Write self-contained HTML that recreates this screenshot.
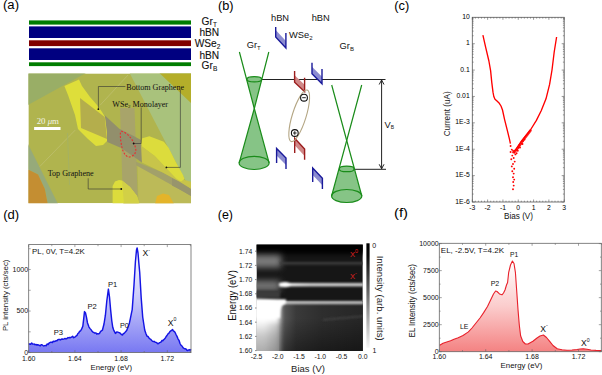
<!DOCTYPE html>
<html><head><meta charset="utf-8"><style>
html,body{margin:0;padding:0;background:#fff;width:602px;height:375px;overflow:hidden}
svg{display:block}

</style></head><body>
<svg width="602" height="375" viewBox="0 0 602 375">
<rect width="602" height="375" fill="#fff"/>
<text x="3" y="8.9" font-size="12" textLength="16" lengthAdjust="spacingAndGlyphs" fill="#000" font-family='"Liberation Sans", sans-serif'>(a)</text>
<text x="218" y="9.6" font-size="12" textLength="15.6" lengthAdjust="spacingAndGlyphs" fill="#000" font-family='"Liberation Sans", sans-serif'>(b)</text>
<text x="394.3" y="9.6" font-size="12" textLength="15" lengthAdjust="spacingAndGlyphs" fill="#000" font-family='"Liberation Sans", sans-serif'>(c)</text>
<text x="3.2" y="219.1" font-size="12" textLength="16" lengthAdjust="spacingAndGlyphs" fill="#000" font-family='"Liberation Sans", sans-serif'>(d)</text>
<text x="217.8" y="218.8" font-size="12" textLength="15.2" lengthAdjust="spacingAndGlyphs" fill="#000" font-family='"Liberation Sans", sans-serif'>(e)</text>
<text x="394" y="216.8" font-size="12" textLength="14" lengthAdjust="spacingAndGlyphs" fill="#000" font-family='"Liberation Sans", sans-serif'>(f)</text>
<rect x="29" y="20.4" width="162" height="4.2" fill="#007d00"/>
<rect x="29" y="26.4" width="162" height="11.6" fill="#000080"/>
<rect x="29" y="40.3" width="162" height="5.8" fill="#800000"/>
<rect x="29" y="48.3" width="162" height="11.7" fill="#000080"/>
<rect x="29" y="62.3" width="162" height="3.8" fill="#007d00"/>
<g font-family='"Liberation Sans", sans-serif' font-size="10.2" fill="#111" stroke="#111" stroke-width="0.1">
<text x="201.6" y="24.9">Gr<tspan font-size="6.5" dy="2">T</tspan></text>
<text x="199.4" y="35.8">hBN</text>
<text x="194.7" y="46.9">WSe<tspan font-size="6.5" dy="2">2</tspan></text>
<text x="199.4" y="59">hBN</text>
<text x="201.6" y="68.8">Gr<tspan font-size="6.5" dy="2">B</tspan></text>
</g>
<svg x="28.4" y="73.4" width="162.6" height="129.79999999999998" viewBox="28.4 73.4 162.6 129.79999999999998" overflow="hidden">
<rect x="28.4" y="73.4" width="162.6" height="129.79999999999998" fill="#b0b44e"/>
<polygon points="28,73 86,73 28,105" fill="#99ae66"/>
<polygon points="129.6,73 192,73 192,192 182,174" fill="#a9c27c"/>
<polygon points="159.4,73 192,73 192,104" fill="#b4ae2a"/>
<polygon points="28,144 58,204 47.7,204 44.8,189 38,174.4 28,169.4" fill="#96aa7a"/>
<polygon points="28,169.4 38,174.4 44.8,189 47.7,204 28,204" fill="#c48e32"/>
<polygon points="120,108 134.5,108 138,204 123,204" fill="#a8a46a"/>
<polygon points="104.7,115.3 119.3,128.7 133.6,136 141,140 142,146 142,162.4 121.2,148 107.3,142" fill="#928f6c"/>
<polygon points="137.5,163 192,194 192,204 138.5,204" fill="#bcba58"/>
<polygon points="136,161.8 162.7,172.4 179.7,181.8 192,189.5 192,196.5 179.7,189.5 162.7,180.1 136,165.2" fill="#a2a06a"/>
<polygon points="172,178 179.7,181.8 192,189.5 192,196.5 179.7,189.5 172,185.5" fill="#98956c"/>
<polygon points="64.4,86 79,79.4 82,86 90,97 97,105 102,112 105,117 107,133 107,141 103,145 96,146 88,139 78,129 75,115 68,95" fill="#dede3a"/>
<polygon points="80,98 104.7,117 107,139 81,128" fill="#b4ae4c"/>
<polygon points="141,144 141.9,162.4 162.7,172.4 179.7,181.8 192,189.5 192,182 184.5,180 176,178.5 154.8,156 142,146.4" fill="#c8c44a"/>
<polygon points="142.2,138.2 149.4,136.2 163.8,141.8 168.6,147.8 175.8,162.1 183,175 184.5,179 181,181.5 176,178.5 154.8,156 142,146.4 141,143" fill="#dcdc3c"/>
<polygon points="112.6,204 112.6,186 115,181.5 119,180 122,180.5 130,187 137,196 139.4,204" fill="#dcdc3c"/>
<polygon points="122,180.5 130,187 137,196 139.4,204 124,204" fill="#d2d046"/>
<polygon points="155,204 157,196 163,193.4 169,195 174,204" fill="#e4b42a"/>
<path d="M121.3,131.2 C124,131.5 127,134 129.5,136.5 C132.5,140 135.5,145 135.8,150 C136,154 132,157.2 128.5,157 C125.5,156.5 123,152 122,147.5 C121,143 120.2,137 120.3,134 C120.4,132.2 120.8,131.2 121.3,131.2 Z" fill="none" stroke="#e83030" stroke-width="1.1" stroke-dasharray="1.9,1.5"/>
<g stroke="#c4c47c" stroke-width="0.8" opacity="0.7" fill="none"><line x1="39.8" y1="166.5" x2="75.3" y2="130"/><line x1="100" y1="105.3" x2="128" y2="75"/></g>
<line x1="67.5" y1="133" x2="69.5" y2="185" stroke="#9eb070" stroke-width="1" opacity="0.6"/>
<g stroke="#333" stroke-width="0.6" fill="none">
<polyline points="125.4,86.5 98.4,86.5 98.4,109.2"/>
<polyline points="180.4,90 180.4,167.4 166.4,167.4"/>
<polyline points="141.2,107.4 141.2,143.5 133.6,143.5"/>
<polyline points="88.2,178.3 88.2,189 121.3,189"/>
</g>
<g fill="#111"><circle cx="98.4" cy="109.2" r="0.9"/><circle cx="166.4" cy="167.4" r="0.9"/><circle cx="133.6" cy="143.5" r="0.9"/><circle cx="121.3" cy="189" r="0.9"/></g>
<g font-family='"Liberation Serif", serif' font-size="8.1" fill="#111">
<text x="126.3" y="90.1">Bottom Graphene</text>
<text x="112.3" y="106.5">WSe<tspan font-size="5" dy="1.5">2</tspan><tspan dy="-1.5"> Monolayer</tspan></text>
<text x="47.7" y="176.4">Top Graphene</text>
</g>
<rect x="34.1" y="127" width="26.4" height="3" fill="#fff"/>
<text x="36.7" y="123.8" font-family='"Liberation Serif", serif' font-size="8.8" fill="#f4f4e8">20 <tspan font-style="italic">μ</tspan>m</text>
</svg>
<g font-family='"Liberation Sans", sans-serif' font-size="9.3" fill="#111">
<text x="271" y="20.7">hBN</text>
<text x="311.7" y="20.7">hBN</text>
<text x="289" y="37.7">WSe<tspan font-size="6" dy="2">2</tspan></text>
<text x="246.7" y="48.3">Gr<tspan font-size="6" dy="2">T</tspan></text>
<text x="339.6" y="48.7">Gr<tspan font-size="6" dy="2">B</tspan></text>
<text x="384.6" y="128">V<tspan font-size="5" dy="1.2">B</tspan></text>
</g>
<g stroke="#222" stroke-width="1" fill="none">
<line x1="262" y1="79.5" x2="385.5" y2="79.5"/>
<line x1="354" y1="169.3" x2="386" y2="169.3"/>
<line x1="381.6" y1="80" x2="381.6" y2="169"/>
<polyline points="379.2,84.5 381.6,80 384,84.5"/>
<polyline points="379.2,164.3 381.6,168.8 384,164.3"/>
</g>
<g stroke="#1a8c1a" stroke-width="1.2">
<polygon points="246.7,79.3 261.9,79.3 254.3,108.5" fill="#86c486" stroke="none"/>
<polygon points="254.3,108.5 239.2,162.9 269.1,162.9" fill="#86c486" stroke="none"/>
<ellipse cx="254.1" cy="162.9" rx="15" ry="6.6" fill="#86c486"/>
<ellipse cx="254.3" cy="79.3" rx="7.4" ry="2.6" fill="#86c486"/>
<polyline points="239.4,52 254.3,108.5 269.1,162.9" fill="none"/>
<polyline points="268.8,52 254.3,108.5 239.2,162.9" fill="none"/>
</g>
<g stroke="#1a8c1a" stroke-width="1.2">
<polygon points="339.2,168.9 354.2,168.9 361.8,196 331.6,196" fill="#86c486" stroke="none"/>
<ellipse cx="346.7" cy="196" rx="15.1" ry="6.5" fill="#86c486"/>
<ellipse cx="346.7" cy="168.9" rx="7.4" ry="2.8" fill="#86c486"/>
<polyline points="331.7,85 346.7,140.5 361.8,196" fill="none"/>
<polyline points="361.7,85 346.7,140.5 331.6,196" fill="none"/>
</g>
<polygon points="275.7,30 285.9,40.9 285.9,47.9 275.7,37" fill="#8c8cd0"/>
<polyline points="275.7,27 275.7,37 285.9,47.9 285.9,33" fill="none" stroke="#1a1a9a" stroke-width="1.4"/>
<polygon points="294.6,75.3 304.6,84.7 304.6,91.7 294.6,82.3" fill="#d08888"/>
<polyline points="294.6,71 294.6,82.3 304.6,91.7 304.6,77.7" fill="none" stroke="#9b1c1c" stroke-width="1.4"/>
<polygon points="312,66.7 322,76.7 322,83.7 312,73.7" fill="#8c8cd0"/>
<polyline points="312,62.7 312,73.7 322,83.7 322,69" fill="none" stroke="#1a1a9a" stroke-width="1.4"/>
<polygon points="294.7,138.3 304.6,149 304.6,156 294.7,145.3" fill="#d08888"/>
<polyline points="294.7,153 294.7,138.3 304.6,149 304.6,159.7" fill="none" stroke="#9b1c1c" stroke-width="1.4"/>
<polygon points="276.6,148.5 286,158 286,165 276.6,155.5" fill="#8c8cd0"/>
<polyline points="276.6,163 276.6,148.5 286,158 286,169" fill="none" stroke="#1a1a9a" stroke-width="1.4"/>
<polygon points="312.7,168 322.4,178.2 322.4,185.2 312.7,175" fill="#8c8cd0"/>
<polyline points="312.7,182 312.7,168 322.4,178.2 322.4,188.9" fill="none" stroke="#1a1a9a" stroke-width="1.4"/>
<ellipse cx="299.2" cy="115.8" rx="6.9" ry="27" transform="rotate(17.3 299.2 115.8)" fill="none" stroke="#b4a684" stroke-width="1.1"/>
<g stroke="#111" stroke-width="1.1" fill="#fff"><circle cx="304" cy="97.7" r="3.4"/><circle cx="294.8" cy="133" r="3.4"/></g>
<g stroke="#111" stroke-width="0.9"><line x1="302.2" y1="97.7" x2="305.8" y2="97.7"/><line x1="293" y1="133" x2="296.6" y2="133"/><line x1="294.8" y1="131.2" x2="294.8" y2="134.8"/></g>
<rect x="472.3" y="17.3" width="91.90000000000003" height="184.7" fill="none" stroke="#555" stroke-width="0.8"/>
<path d="M472.3,202.00h2.5M564.2,202.00h-2.5M472.3,194.06h1.3M564.2,194.06h-1.3M472.3,189.41h1.3M564.2,189.41h-1.3M472.3,186.11h1.3M564.2,186.11h-1.3M472.3,183.56h1.3M564.2,183.56h-1.3M472.3,181.47h1.3M564.2,181.47h-1.3M472.3,179.70h1.3M564.2,179.70h-1.3M472.3,178.17h1.3M564.2,178.17h-1.3M472.3,176.82h1.3M564.2,176.82h-1.3M472.3,175.61h2.5M564.2,175.61h-2.5M472.3,167.67h1.3M564.2,167.67h-1.3M472.3,163.03h1.3M564.2,163.03h-1.3M472.3,159.73h1.3M564.2,159.73h-1.3M472.3,157.17h1.3M564.2,157.17h-1.3M472.3,155.08h1.3M564.2,155.08h-1.3M472.3,153.32h1.3M564.2,153.32h-1.3M472.3,151.79h1.3M564.2,151.79h-1.3M472.3,150.44h1.3M564.2,150.44h-1.3M472.3,149.23h2.5M564.2,149.23h-2.5M472.3,141.29h1.3M564.2,141.29h-1.3M472.3,136.64h1.3M564.2,136.64h-1.3M472.3,133.34h1.3M564.2,133.34h-1.3M472.3,130.79h1.3M564.2,130.79h-1.3M472.3,128.70h1.3M564.2,128.70h-1.3M472.3,126.93h1.3M564.2,126.93h-1.3M472.3,125.40h1.3M564.2,125.40h-1.3M472.3,124.05h1.3M564.2,124.05h-1.3M472.3,122.84h2.5M564.2,122.84h-2.5M472.3,114.90h1.3M564.2,114.90h-1.3M472.3,110.25h1.3M564.2,110.25h-1.3M472.3,106.96h1.3M564.2,106.96h-1.3M472.3,104.40h1.3M564.2,104.40h-1.3M472.3,102.31h1.3M564.2,102.31h-1.3M472.3,100.54h1.3M564.2,100.54h-1.3M472.3,99.01h1.3M564.2,99.01h-1.3M472.3,97.66h1.3M564.2,97.66h-1.3M472.3,96.46h2.5M564.2,96.46h-2.5M472.3,88.51h1.3M564.2,88.51h-1.3M472.3,83.87h1.3M564.2,83.87h-1.3M472.3,80.57h1.3M564.2,80.57h-1.3M472.3,78.01h1.3M564.2,78.01h-1.3M472.3,75.93h1.3M564.2,75.93h-1.3M472.3,74.16h1.3M564.2,74.16h-1.3M472.3,72.63h1.3M564.2,72.63h-1.3M472.3,71.28h1.3M564.2,71.28h-1.3M472.3,70.07h2.5M564.2,70.07h-2.5M472.3,62.13h1.3M564.2,62.13h-1.3M472.3,57.48h1.3M564.2,57.48h-1.3M472.3,54.19h1.3M564.2,54.19h-1.3M472.3,51.63h1.3M564.2,51.63h-1.3M472.3,49.54h1.3M564.2,49.54h-1.3M472.3,47.77h1.3M564.2,47.77h-1.3M472.3,46.24h1.3M564.2,46.24h-1.3M472.3,44.89h1.3M564.2,44.89h-1.3M472.3,43.69h2.5M564.2,43.69h-2.5M472.3,35.74h1.3M564.2,35.74h-1.3M472.3,31.10h1.3M564.2,31.10h-1.3M472.3,27.80h1.3M564.2,27.80h-1.3M472.3,25.24h1.3M564.2,25.24h-1.3M472.3,23.15h1.3M564.2,23.15h-1.3M472.3,21.39h1.3M564.2,21.39h-1.3M472.3,19.86h1.3M564.2,19.86h-1.3M472.3,18.51h1.3M564.2,18.51h-1.3M472.30,202.0v-2.5M472.30,17.3v2.5M475.36,202.0v-1.3M475.36,17.3v1.3M478.43,202.0v-1.3M478.43,17.3v1.3M481.49,202.0v-1.3M481.49,17.3v1.3M484.55,202.0v-1.3M484.55,17.3v1.3M487.62,202.0v-2.5M487.62,17.3v2.5M490.68,202.0v-1.3M490.68,17.3v1.3M493.74,202.0v-1.3M493.74,17.3v1.3M496.81,202.0v-1.3M496.81,17.3v1.3M499.87,202.0v-1.3M499.87,17.3v1.3M502.93,202.0v-2.5M502.93,17.3v2.5M506.00,202.0v-1.3M506.00,17.3v1.3M509.06,202.0v-1.3M509.06,17.3v1.3M512.12,202.0v-1.3M512.12,17.3v1.3M515.19,202.0v-1.3M515.19,17.3v1.3M518.25,202.0v-2.5M518.25,17.3v2.5M521.31,202.0v-1.3M521.31,17.3v1.3M524.38,202.0v-1.3M524.38,17.3v1.3M527.44,202.0v-1.3M527.44,17.3v1.3M530.50,202.0v-1.3M530.50,17.3v1.3M533.57,202.0v-2.5M533.57,17.3v2.5M536.63,202.0v-1.3M536.63,17.3v1.3M539.69,202.0v-1.3M539.69,17.3v1.3M542.76,202.0v-1.3M542.76,17.3v1.3M545.82,202.0v-1.3M545.82,17.3v1.3M548.88,202.0v-2.5M548.88,17.3v2.5M551.95,202.0v-1.3M551.95,17.3v1.3M555.01,202.0v-1.3M555.01,17.3v1.3M558.07,202.0v-1.3M558.07,17.3v1.3M561.14,202.0v-1.3M561.14,17.3v1.3M564.20,202.0v-2.5M564.20,17.3v2.5" stroke="#555" stroke-width="0.6" fill="none"/>
<g font-family='"Liberation Sans", sans-serif' font-size="6.8" fill="#000" text-anchor="end">
<text x="469.7" y="18.9">10</text>
<text x="469.7" y="45.3">1</text>
<text x="469.7" y="71.7">0.1</text>
<text x="469.7" y="98.1">0.01</text>
<text x="469.7" y="124.4">1E-3</text>
<text x="469.7" y="150.8">1E-4</text>
<text x="469.7" y="177.2">1E-5</text>
<text x="469.7" y="203.6">1E-6</text>
</g>
<g font-family='"Liberation Sans", sans-serif' font-size="6.8" fill="#000" text-anchor="middle">
<text x="472.3" y="209.9">-3</text>
<text x="487.6" y="209.9">-2</text>
<text x="502.9" y="209.9">-1</text>
<text x="518.2" y="209.9">0</text>
<text x="533.6" y="209.9">1</text>
<text x="548.9" y="209.9">2</text>
<text x="564.2" y="209.9">3</text>
</g>
<text x="518.5" y="219.1" font-size="8.2" text-anchor="middle" fill="#111" font-family='"Liberation Sans", sans-serif' >Bias (V)</text>
<text transform="translate(449.8,113.8) rotate(-90)" font-family='"Liberation Sans", sans-serif' font-size="8.2" fill="#222" text-anchor="middle">Current (uA)</text>
<polyline points="482.9,35.1 485.8,47.8 488.9,61.0 490.6,70.6 491.8,82.6 493.0,92.2 493.8,96.5 495.0,99.2 497.0,101.0 499.3,103.3 501.0,106.0 502.5,110.0 504.6,119.6 507.0,129.2 509.4,138.8 510.4,143.6" fill="none" stroke="#f00" stroke-width="1.35" stroke-linejoin="round"/>
<polyline points="512.5,153.0 516.0,149.2 520.8,142.0 525.6,136.0 530.4,130.0 536.4,120.4 541.2,110.8 546.0,98.8 549.6,84.4 552.0,70.0 554.2,52.0 556.6,37.0" fill="none" stroke="#f00" stroke-width="1.35" stroke-linejoin="round"/>
<polyline points="515,151.5 518,147.8 520.8,143.5 524,139 527.5,134.5 530.5,130.5" fill="none" stroke="#f00" stroke-width="2.6" stroke-linecap="round" opacity="0.85"/>
<g fill="#f00"><circle cx="510.6" cy="146" r="0.95"/><circle cx="511.8" cy="149.6" r="0.95"/><circle cx="513" cy="150.8" r="0.95"/><circle cx="510.6" cy="152" r="0.95"/><circle cx="514.2" cy="152.7" r="0.95"/><circle cx="516.6" cy="153.2" r="0.95"/><circle cx="517.8" cy="150.8" r="0.95"/><circle cx="512.3" cy="155.6" r="0.95"/><circle cx="515.4" cy="154.4" r="0.95"/><circle cx="513.7" cy="158" r="0.95"/><circle cx="511.3" cy="159.2" r="0.95"/><circle cx="514.7" cy="161.6" r="0.95"/><circle cx="513" cy="164" r="0.95"/><circle cx="511.8" cy="166.4" r="0.95"/><circle cx="514.2" cy="168.8" r="0.95"/><circle cx="512.3" cy="171.2" r="0.95"/><circle cx="513.7" cy="173.6" r="0.95"/><circle cx="513" cy="177.2" r="0.95"/><circle cx="514.2" cy="179.6" r="0.95"/><circle cx="513.2" cy="182" r="0.95"/><circle cx="513.7" cy="185.6" r="0.95"/><circle cx="513" cy="189.2" r="0.95"/><circle cx="518.5" cy="147.5" r="0.95"/><circle cx="519.5" cy="145.2" r="0.95"/><circle cx="521.5" cy="143.6" r="0.95"/><circle cx="523" cy="141" r="0.95"/><circle cx="524.5" cy="139.5" r="0.95"/><circle cx="517" cy="150" r="0.95"/><circle cx="520" cy="147.5" r="0.95"/><circle cx="522.5" cy="144" r="0.95"/></g>
<defs><linearGradient id="gd" x1="0" y1="0" x2="0" y2="1"><stop offset="0" stop-color="#ffffff"/><stop offset="0.5" stop-color="#c6c6fa"/><stop offset="1" stop-color="#7878f2"/></linearGradient>
<linearGradient id="gf" x1="0" y1="0" x2="0" y2="1"><stop offset="0" stop-color="#ffffff"/><stop offset="0.5" stop-color="#fbcccc"/><stop offset="1" stop-color="#f48282"/></linearGradient>
<linearGradient id="gcb" x1="0" y1="0" x2="0" y2="1"><stop offset="0" stop-color="#000"/><stop offset="0.12" stop-color="#0a0a0a"/><stop offset="1" stop-color="#f6f6f6"/></linearGradient></defs>
<path d="M28.7,344.4 L29.5,343.9 L30.6,344.3 L31.7,343.1 L32.5,344.0 L33.4,344.1 L34.2,343.9 L35.0,344.8 L35.9,344.4 L36.8,345.1 L37.6,344.8 L38.5,345.0 L39.4,345.4 L40.2,345.9 L41.1,344.8 L42.0,344.8 L42.9,345.5 L43.7,346.0 L44.5,345.6 L45.4,345.5 L46.3,345.7 L47.2,343.9 L48.1,344.5 L49.0,343.2 L49.9,342.6 L50.7,342.2 L51.6,342.2 L52.4,342.5 L53.3,341.3 L54.2,341.5 L55.1,341.3 L56.1,340.7 L57.0,340.7 L57.8,339.7 L58.7,339.5 L59.5,339.5 L60.4,339.9 L61.2,339.3 L62.2,339.0 L63.1,339.2 L64.0,338.9 L65.0,338.5 L66.0,338.9 L67.0,338.5 L68.0,337.6 L68.8,337.8 L69.7,337.5 L70.5,337.7 L71.5,337.2 L72.6,336.2 L73.7,337.7 L74.8,337.1 L75.9,336.2 L77.0,335.4 L77.9,333.5 L78.8,332.9 L79.6,331.2 L80.5,331.0 L81.7,328.9 L82.8,326.3 L83.7,318.9 L84.5,311.6 L85.5,313.0 L86.5,317.3 L87.5,323.0 L89.0,327.1 L90.1,328.6 L91.2,329.9 L92.1,331.3 L93.1,332.3 L94.0,332.5 L94.9,333.2 L95.9,332.8 L96.8,334.2 L97.7,333.7 L98.6,333.9 L99.5,333.3 L100.5,331.6 L101.4,330.8 L102.4,330.2 L104.0,324.0 L105.4,315.2 L106.8,301.0 L107.6,295.1 L108.4,289.1 L109.5,297.0 L110.6,309.6 L111.8,321.0 L112.8,327.6 L113.7,330.1 L114.5,331.6 L115.4,333.4 L117.0,331.9 L118.4,332.4 L120.0,333.0 L120.9,333.9 L121.8,334.8 L122.6,335.0 L123.4,333.4 L124.2,333.4 L125.4,331.9 L126.6,330.6 L127.6,328.2 L128.5,325.9 L129.5,322.7 L130.4,318.4 L131.3,313.9 L132.2,309.6 L133.1,297.3 L134.0,285.0 L135.4,262.0 L136.5,250.0 L137.1,248.0 L138.0,253.0 L138.8,262.6 L139.7,272.3 L141.2,298.0 L142.7,317.0 L143.7,323.5 L144.7,330.0 L145.8,333.3 L147.0,336.1 L148.0,336.5 L149.0,338.0 L149.9,338.8 L150.8,339.4 L151.7,340.5 L152.6,341.3 L153.5,341.5 L154.3,341.4 L155.2,342.2 L156.1,342.4 L156.9,342.9 L157.8,343.7 L158.6,343.6 L159.4,342.7 L160.3,342.3 L161.2,341.8 L162.0,340.4 L162.8,340.8 L163.6,339.8 L164.4,339.1 L165.2,338.2 L166.0,336.8 L167.0,335.5 L168.0,333.8 L169.0,333.2 L169.9,331.6 L170.8,330.9 L171.6,330.3 L172.5,329.5 L173.3,330.8 L174.2,331.4 L175.0,332.3 L176.0,334.5 L177.0,336.4 L178.0,338.8 L179.0,340.3 L180.0,343.5 L181.0,345.2 L182.0,346.0 L183.0,347.7 L184.0,348.3 L185.0,348.8 L186.0,349.0 L186.8,350.1 L187.6,350.5 L188.4,349.9 L189.2,350.0 L190.0,349.6 L191.0,350.4 L191,352.6 L28.7,352.6 Z" fill="url(#gd)" stroke="none" transform=""/>
<polyline points="28.7,344.4 29.5,343.9 30.6,344.3 31.7,343.1 32.5,344.0 33.4,344.1 34.2,343.9 35.0,344.8 35.9,344.4 36.8,345.1 37.6,344.8 38.5,345.0 39.4,345.4 40.2,345.9 41.1,344.8 42.0,344.8 42.9,345.5 43.7,346.0 44.5,345.6 45.4,345.5 46.3,345.7 47.2,343.9 48.1,344.5 49.0,343.2 49.9,342.6 50.7,342.2 51.6,342.2 52.4,342.5 53.3,341.3 54.2,341.5 55.1,341.3 56.1,340.7 57.0,340.7 57.8,339.7 58.7,339.5 59.5,339.5 60.4,339.9 61.2,339.3 62.2,339.0 63.1,339.2 64.0,338.9 65.0,338.5 66.0,338.9 67.0,338.5 68.0,337.6 68.8,337.8 69.7,337.5 70.5,337.7 71.5,337.2 72.6,336.2 73.7,337.7 74.8,337.1 75.9,336.2 77.0,335.4 77.9,333.5 78.8,332.9 79.6,331.2 80.5,331.0 81.7,328.9 82.8,326.3 83.7,318.9 84.5,311.6 85.5,313.0 86.5,317.3 87.5,323.0 89.0,327.1 90.1,328.6 91.2,329.9 92.1,331.3 93.1,332.3 94.0,332.5 94.9,333.2 95.9,332.8 96.8,334.2 97.7,333.7 98.6,333.9 99.5,333.3 100.5,331.6 101.4,330.8 102.4,330.2 104.0,324.0 105.4,315.2 106.8,301.0 107.6,295.1 108.4,289.1 109.5,297.0 110.6,309.6 111.8,321.0 112.8,327.6 113.7,330.1 114.5,331.6 115.4,333.4 117.0,331.9 118.4,332.4 120.0,333.0 120.9,333.9 121.8,334.8 122.6,335.0 123.4,333.4 124.2,333.4 125.4,331.9 126.6,330.6 127.6,328.2 128.5,325.9 129.5,322.7 130.4,318.4 131.3,313.9 132.2,309.6 133.1,297.3 134.0,285.0 135.4,262.0 136.5,250.0 137.1,248.0 138.0,253.0 138.8,262.6 139.7,272.3 141.2,298.0 142.7,317.0 143.7,323.5 144.7,330.0 145.8,333.3 147.0,336.1 148.0,336.5 149.0,338.0 149.9,338.8 150.8,339.4 151.7,340.5 152.6,341.3 153.5,341.5 154.3,341.4 155.2,342.2 156.1,342.4 156.9,342.9 157.8,343.7 158.6,343.6 159.4,342.7 160.3,342.3 161.2,341.8 162.0,340.4 162.8,340.8 163.6,339.8 164.4,339.1 165.2,338.2 166.0,336.8 167.0,335.5 168.0,333.8 169.0,333.2 169.9,331.6 170.8,330.9 171.6,330.3 172.5,329.5 173.3,330.8 174.2,331.4 175.0,332.3 176.0,334.5 177.0,336.4 178.0,338.8 179.0,340.3 180.0,343.5 181.0,345.2 182.0,346.0 183.0,347.7 184.0,348.3 185.0,348.8 186.0,349.0 186.8,350.1 187.6,350.5 188.4,349.9 189.2,350.0 190.0,349.6 191.0,350.4" fill="none" stroke="#1414e4" stroke-width="1.45" stroke-linejoin="round"/>
<rect x="28.7" y="244.6" width="162.3" height="108.00000000000003" fill="none" stroke="#666" stroke-width="0.8"/>
<path d="M28.7,352.60h2M28.7,331.83h2M28.7,311.05h2M28.7,290.28h2M28.7,269.50h2M28.7,248.73h2M28.70,352.6v-2.5M28.70,244.6v2.5M51.80,352.6v-1.6M51.80,244.6v1.6M74.90,352.6v-2.5M74.90,244.6v2.5M98.00,352.6v-1.6M98.00,244.6v1.6M121.10,352.6v-2.5M121.10,244.6v2.5M144.20,352.6v-1.6M144.20,244.6v1.6M167.30,352.6v-2.5M167.30,244.6v2.5M190.40,352.6v-1.6M190.40,244.6v1.6" stroke="#666" stroke-width="0.6" fill="none"/>
<g font-family='"Liberation Sans", sans-serif' font-size="7" fill="#111" text-anchor="end">
<text x="28.099999999999998" y="354.9">0</text>
<text x="28.099999999999998" y="313.4">500</text>
<text x="28.099999999999998" y="271.8">1000</text>
</g>
<g font-family='"Liberation Sans", sans-serif' font-size="7" fill="#111" text-anchor="middle">
<text x="28.7" y="360.8">1.60</text>
<text x="74.9" y="360.8">1.64</text>
<text x="121.1" y="360.8">1.68</text>
<text x="167.3" y="360.8">1.72</text>
</g>
<text x="111.3" y="370.1" font-size="7.8" text-anchor="middle" fill="#111" font-family='"Liberation Sans", sans-serif' textLength="41.4" lengthAdjust="spacingAndGlyphs">Energy (eV)</text>
<text transform="translate(7.9,295.35) rotate(-90)" font-size="8" text-anchor="middle" fill="#111" font-family='"Liberation Sans", sans-serif' textLength="71.5" lengthAdjust="spacingAndGlyphs">PL intensity (cts/sec)</text>
<text x="32" y="254.2" font-size="8" text-anchor="start" fill="#111" font-family='"Liberation Sans", sans-serif' textLength="52.9" lengthAdjust="spacingAndGlyphs">PL, 0V, T=4.2K</text>
<text x="53.7" y="334.9" font-size="8" text-anchor="start" fill="#111" font-family='"Liberation Sans", sans-serif' textLength="9.3" lengthAdjust="spacingAndGlyphs">P3</text>
<text x="87.5" y="308.9" font-size="8" text-anchor="start" fill="#111" font-family='"Liberation Sans", sans-serif' textLength="9.3" lengthAdjust="spacingAndGlyphs">P2</text>
<text x="108" y="287.2" font-size="8" text-anchor="start" fill="#111" font-family='"Liberation Sans", sans-serif' textLength="9.3" lengthAdjust="spacingAndGlyphs">P1</text>
<text x="119.9" y="328.3" font-size="8" text-anchor="start" fill="#111" font-family='"Liberation Sans", sans-serif' textLength="8.8" lengthAdjust="spacingAndGlyphs">P0</text>
<text x="142.4" y="256.1" font-size="8.6" text-anchor="start" fill="#111" font-family='"Liberation Sans", sans-serif'>X<tspan font-size="5.4" dy="-4.6">-</tspan></text>
<text x="167.8" y="325.7" font-size="8.6" text-anchor="start" fill="#111" font-family='"Liberation Sans", sans-serif'>X<tspan font-size="5.2" dy="-4.4">0</tspan></text>
<svg x="256.5" y="244.5" width="106.30000000000001" height="106.5" viewBox="256.5 244.5 106.30000000000001 106.5" overflow="hidden">
<defs><filter id="bl1" x="-20%" y="-50%" width="140%" height="200%"><feGaussianBlur stdDeviation="1.2"/></filter><filter id="bl2" x="-20%" y="-50%" width="140%" height="200%"><feGaussianBlur stdDeviation="2.5"/></filter>
<linearGradient id="gl" x1="0" y1="0" x2="1" y2="0"><stop offset="0" stop-color="#fff"/><stop offset="0.15" stop-color="#e8e8e8"/><stop offset="1" stop-color="#c8c8c8"/></linearGradient>
<linearGradient id="gl2" x1="0" y1="0" x2="1" y2="0"><stop offset="0" stop-color="#ddd"/><stop offset="1" stop-color="#b8b8b8"/></linearGradient>
<linearGradient id="gwb" x1="0" y1="0" x2="0" y2="1"><stop offset="0" stop-color="#fff"/><stop offset="0.45" stop-color="#fafafa"/><stop offset="1" stop-color="#9a9a9a"/></linearGradient></defs>
<rect x="256.5" y="244.5" width="106.30000000000001" height="106.5" fill="#161616"/>
<defs><linearGradient id="glr" gradientUnits="userSpaceOnUse" x1="279" y1="0" x2="364" y2="0"><stop offset="0" stop-color="#6e6e6e"/><stop offset="0.07" stop-color="#545454"/><stop offset="0.2" stop-color="#3a3a3a"/><stop offset="0.5" stop-color="#2e2e2e"/><stop offset="1" stop-color="#262626"/></linearGradient>
<linearGradient id="gx" x1="0" y1="0" x2="1" y2="0"><stop offset="0" stop-color="#fff"/><stop offset="0.1" stop-color="#f0f0f0"/><stop offset="0.35" stop-color="#d0d0d0"/><stop offset="1" stop-color="#c8c8c8"/></linearGradient>
<linearGradient id="gvb" x1="0" y1="0" x2="0" y2="1"><stop offset="0" stop-color="#000" stop-opacity="0"/><stop offset="1" stop-color="#000" stop-opacity="0.5"/></linearGradient>
<linearGradient id="gbot" x1="0" y1="0" x2="0" y2="1"><stop offset="0" stop-color="#f8f8f8"/><stop offset="0.35" stop-color="#c8c8c8"/><stop offset="1" stop-color="#9a9a9a"/></linearGradient>
<linearGradient id="gbr" x1="0" y1="0" x2="1" y2="0"><stop offset="0" stop-color="#000" stop-opacity="0"/><stop offset="0.6" stop-color="#000" stop-opacity="0"/><stop offset="1" stop-color="#000" stop-opacity="0.2"/></linearGradient>
<filter id="bl3" x="-30%" y="-60%" width="160%" height="220%"><feGaussianBlur stdDeviation="3.2"/></filter></defs>
<rect x="250" y="238" width="120" height="16" fill="#050505" filter="url(#bl2)"/>
<rect x="270" y="301" width="100" height="60" fill="url(#glr)"/>
<rect x="279" y="318" width="95" height="40" fill="url(#gvb)"/>
<g filter="url(#bl3)">
<rect x="248" y="255" width="33" height="12.5" fill="#7c7c7c"/>
<rect x="248" y="280.5" width="32" height="10.5" fill="#747474"/>
</g>
<rect x="250" y="291" width="30" height="7" fill="#3a3a3a" filter="url(#bl1)"/>
<g filter="url(#bl1)">
<rect x="280" y="262" width="90" height="2.6" fill="#3e3e3e"/>
<rect x="279" y="283" width="90" height="3.4" fill="url(#gx)"/>
<ellipse cx="285" cy="284.7" rx="6" ry="2.6" fill="#fff"/>
<rect x="279" y="301.1" width="90" height="3" fill="#c2c2c2"/>
<polygon points="323,319.3 364,315.6 364,316.8 323,320.4" fill="#4a4a4a"/>
</g>
<g filter="url(#bl2)">
<rect x="240" y="306" width="40" height="18" fill="#fff"/>
<rect x="240" y="322" width="40" height="40" fill="url(#gbot)"/>
<rect x="240" y="322" width="40" height="40" fill="url(#gbr)"/>
</g>
<g filter="url(#bl1)">
<polygon points="250,298.5 286,299.5 286,303 282,306 280.5,310 280,318 250,318" fill="#fff"/>
</g>
</svg>
<rect x="366.4" y="243.3" width="3.2" height="104.5" fill="url(#gcb)"/>
<g font-family='"Liberation Sans", sans-serif' font-size="6.8" fill="#111" text-anchor="end">
<text x="252.3" y="353.0">1.60</text>
<text x="252.3" y="338.8">1.62</text>
<text x="252.3" y="324.6">1.64</text>
<text x="252.3" y="310.4">1.66</text>
<text x="252.3" y="296.2">1.68</text>
<text x="252.3" y="282.0">1.70</text>
<text x="252.3" y="267.8">1.72</text>
<text x="252.3" y="253.6">1.74</text>
</g>
<path d="M255.0,350.60h1.5M255.0,336.40h1.5M255.0,322.20h1.5M255.0,308.00h1.5M255.0,293.80h1.5M255.0,279.60h1.5M255.0,265.40h1.5M255.0,251.20h1.5" stroke="#444" stroke-width="0.6"/>
<g font-family='"Liberation Sans", sans-serif' font-size="6.8" fill="#111" text-anchor="middle">
<text x="256.5" y="359.3">-2.5</text>
<text x="277.8" y="359.3">-2.0</text>
<text x="299.0" y="359.3">-1.5</text>
<text x="320.3" y="359.3">-1.0</text>
<text x="341.5" y="359.3">-0.5</text>
<text x="362.8" y="359.3">0.0</text>
</g>
<text x="308" y="372.3" font-size="9.5" text-anchor="middle" fill="#222" font-family='"Liberation Sans", sans-serif' >Bias (V)</text>
<text transform="translate(236,295.5) rotate(-90)" font-size="10" text-anchor="middle" fill="#111" font-family='"Liberation Sans", sans-serif' textLength="50.6" lengthAdjust="spacingAndGlyphs">Energy (eV)</text>
<text transform="translate(376.5,298.2) rotate(90)" font-family='"Liberation Sans", sans-serif' font-size="9.7" fill="#222" text-anchor="middle">Intensity (arb. units)</text>
<text x="372.2" y="248.2" font-size="7" text-anchor="start" fill="#111" font-family='"Liberation Sans", sans-serif' >0</text>
<text x="372.6" y="352.6" font-size="7" text-anchor="start" fill="#111" font-family='"Liberation Sans", sans-serif' >1</text>
<g font-family='"Liberation Sans", sans-serif' font-size="7.6" fill="#e02020">
<text x="350" y="279.2">X<tspan font-size="5.5" dy="-4.3">-</tspan></text>
<text x="350" y="257">X<tspan font-size="5.5" dy="-4.3">0</tspan></text>
</g>
<path d="M439.7,345.3 L443.0,343.3 L446.0,342.2 L450.6,340.8 L454.0,339.3 L458.2,337.7 L463.0,335.5 L468.4,331.9 L472.0,328.0 L476.0,323.0 L480.0,318.0 L483.5,312.9 L487.5,306.5 L491.1,299.0 L493.5,294.0 L495.6,291.0 L497.0,291.5 L499.5,293.9 L502.0,294.8 L503.5,293.0 L505.0,290.0 L506.5,285.0 L507.6,282.5 L508.7,272.3 L510.5,265.0 L512.4,261.1 L514.0,263.5 L515.4,272.3 L516.5,288.0 L518.0,309.6 L519.3,325.0 L520.6,335.7 L522.8,341.5 L525.4,344.0 L528.0,344.0 L532.9,341.3 L537.0,338.0 L540.0,336.0 L543.4,335.0 L546.5,337.5 L549.7,341.3 L553.0,345.5 L557.2,348.8 L562.0,349.8 L567.0,350.2 L572.0,350.0 L577.0,349.5 L580.0,349.0 L583.3,348.8 L587.0,349.3 L591.0,350.0 L596.0,350.4 L601.3,350.6 L601.3,351.7 L439.7,351.7 Z" fill="url(#gf)"/>
<polyline points="439.7,345.3 443.0,343.3 446.0,342.2 450.6,340.8 454.0,339.3 458.2,337.7 463.0,335.5 468.4,331.9 472.0,328.0 476.0,323.0 480.0,318.0 483.5,312.9 487.5,306.5 491.1,299.0 493.5,294.0 495.6,291.0 497.0,291.5 499.5,293.9 502.0,294.8 503.5,293.0 505.0,290.0 506.5,285.0 507.6,282.5 508.7,272.3 510.5,265.0 512.4,261.1 514.0,263.5 515.4,272.3 516.5,288.0 518.0,309.6 519.3,325.0 520.6,335.7 522.8,341.5 525.4,344.0 528.0,344.0 532.9,341.3 537.0,338.0 540.0,336.0 543.4,335.0 546.5,337.5 549.7,341.3 553.0,345.5 557.2,348.8 562.0,349.8 567.0,350.2 572.0,350.0 577.0,349.5 580.0,349.0 583.3,348.8 587.0,349.3 591.0,350.0 596.0,350.4 601.3,350.6" fill="none" stroke="#e8202a" stroke-width="1.1" stroke-linejoin="round"/>
<rect x="439.3" y="243.3" width="161.99999999999994" height="108.39999999999998" fill="none" stroke="#666" stroke-width="0.8"/>
<path d="M439.3,351.70h2.5M601.3,351.70h-2.5M439.3,338.19h1.3M601.3,338.19h-1.3M439.3,324.68h2.5M601.3,324.68h-2.5M439.3,311.16h1.3M601.3,311.16h-1.3M439.3,297.65h2.5M601.3,297.65h-2.5M439.3,284.14h1.3M601.3,284.14h-1.3M439.3,270.62h2.5M601.3,270.62h-2.5M439.3,257.11h1.3M601.3,257.11h-1.3M439.3,243.60h2.5M601.3,243.60h-2.5M439.30,351.7v-2.5M439.30,243.3v2.5M462.50,351.7v-1.6M462.50,243.3v1.6M485.70,351.7v-2.5M485.70,243.3v2.5M508.90,351.7v-1.6M508.90,243.3v1.6M532.10,351.7v-2.5M532.10,243.3v2.5M555.30,351.7v-1.6M555.30,243.3v1.6M578.50,351.7v-2.5M578.50,243.3v2.5M601.70,351.7v-1.6M601.70,243.3v1.6" stroke="#666" stroke-width="0.6" fill="none"/>
<g font-family='"Liberation Sans", sans-serif' font-size="7" fill="#111" text-anchor="end">
<text x="438.7" y="354.0">0</text>
<text x="438.7" y="327.0">2500</text>
<text x="438.7" y="299.9">5000</text>
<text x="438.7" y="272.9">7500</text>
<text x="438.7" y="245.9">10000</text>
</g>
<g font-family='"Liberation Sans", sans-serif' font-size="7" fill="#111" text-anchor="middle">
<text x="439.3" y="359.4">1.60</text>
<text x="485.7" y="359.4">1.64</text>
<text x="532.1" y="359.4">1.68</text>
<text x="578.5" y="359.4">1.72</text>
</g>
<text x="521.5" y="367.9" font-size="7.8" text-anchor="middle" fill="#111" font-family='"Liberation Sans", sans-serif' textLength="41.8" lengthAdjust="spacingAndGlyphs">Energy (eV)</text>
<text transform="translate(415.2,300.8) rotate(-90)" font-size="8.3" text-anchor="middle" fill="#111" font-family='"Liberation Sans", sans-serif' textLength="73.6" lengthAdjust="spacingAndGlyphs">EL Intensity (cts/sec)</text>
<text x="440.8" y="252.9" font-size="8" text-anchor="start" fill="#111" font-family='"Liberation Sans", sans-serif' textLength="63.2" lengthAdjust="spacingAndGlyphs">EL, -2.5V, T=4.2K</text>
<text x="460" y="328.6" font-size="8" text-anchor="start" fill="#111" font-family='"Liberation Sans", sans-serif' textLength="8.4" lengthAdjust="spacingAndGlyphs">LE</text>
<text x="490.7" y="286.1" font-size="8" text-anchor="start" fill="#111" font-family='"Liberation Sans", sans-serif' textLength="8.6" lengthAdjust="spacingAndGlyphs">P2</text>
<text x="510" y="257.4" font-size="8" text-anchor="start" fill="#111" font-family='"Liberation Sans", sans-serif' textLength="8.2" lengthAdjust="spacingAndGlyphs">P1</text>
<text x="540.2" y="331.9" font-size="8.6" text-anchor="start" fill="#111" font-family='"Liberation Sans", sans-serif'>X<tspan font-size="5.4" dy="-4.6">-</tspan></text>
<text x="581" y="346.1" font-size="8.6" text-anchor="start" fill="#111" font-family='"Liberation Sans", sans-serif'>X<tspan font-size="5.2" dy="-4.4">0</tspan></text>
</svg>
</body></html>
